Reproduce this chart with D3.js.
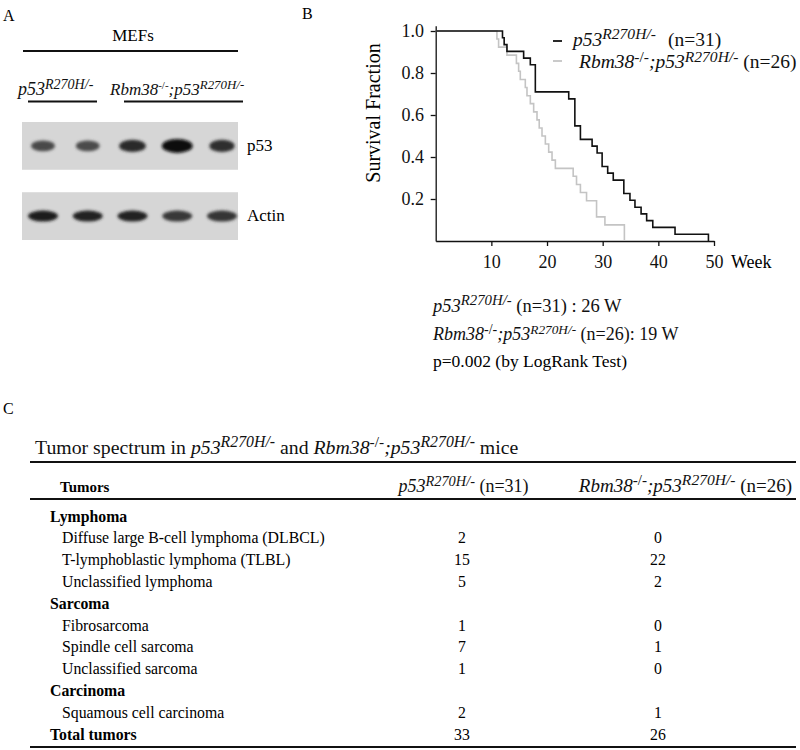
<!DOCTYPE html>
<html><head><meta charset="utf-8">
<script src="https://cdn.jsdelivr.net/npm/d3@7"></script>
<style>body{margin:0;background:#fff}svg{display:block;font-family:"Liberation Serif","Times New Roman",serif}</style>
</head><body><div id="chart"></div>
<script>
// ---------- DATA ----------
// Panel A: band intensities (0..1) for 5 lanes
const laneGroups = ["p53R270H/-","p53R270H/-","Rbm38-/-;p53R270H/-","Rbm38-/-;p53R270H/-","Rbm38-/-;p53R270H/-"];
const p53Bands = [0.62, 0.60, 0.80, 1.00, 0.78];
const p53BandWidth = [0.85, 0.85, 0.95, 1.1, 0.9];
const actinBands = [0.88, 0.85, 0.85, 0.72, 0.75];
const gelRows = ["p53", "Actin"];

// Panel B: Kaplan-Meier survival (weeks, fraction)
const p53Weeks = [0, 12.0, 12.3, 12.8, 15.8, 17.0, 17.9, 23.9, 25.0, 26.0, 28.1, 29.0, 29.9, 30.9, 31.9, 33.8, 34.9, 35.8, 36.9, 37.9, 39.0, 43.0, 49.0];
const p53Surv  = [1, .968, .935, .903, .871, .839, .710, .677, .548, .484, .452, .419, .355, .323, .290, .226, .194, .161, .129, .097, .065, .032, 0];
const dkoWeeks = [0, 11.0, 11.3, 12.8, 14.5, 14.9, 15.2, 16.1, 16.4, 17.0, 17.6, 18.2, 18.6, 19.1, 19.7, 20.3, 20.9, 21.5, 24.7, 25.3, 26.0, 27.1, 28.9, 30.4, 33.9];
const dkoSurv  = [1, .962, .923, .885, .846, .808, .769, .731, .692, .654, .615, .577, .538, .500, .462, .423, .385, .346, .308, .269, .231, .192, .115, .077, 0];
const xTicks = [10, 20, 30, 40, 50];
const yTicks = [0.2, 0.4, 0.6, 0.8, 1.0];
const seriesN = [31, 26];
const medianWeeks = [26, 19];
const pValue = "0.002";

// Panel C: tumor table
const tumorRows = ["Lymphoma", "Diffuse large B-cell lymphoma (DLBCL)", "T-lymphoblastic lymphoma (TLBL)", "Unclassified lymphoma",
  "Sarcoma", "Fibrosarcoma", "Spindle cell sarcoma", "Unclassified sarcoma", "Carcinoma", "Squamous cell carcinoma", "Total tumors"];
const rowIsGroup = [true, false, false, false, true, false, false, false, true, false, true];
const p53Counts = [null, 2, 15, 5, null, 1, 7, 1, null, 2, 33];
const dkoCounts = [null, 0, 22, 2, null, 0, 1, 0, null, 1, 26];

// ---------- HELPERS ----------
const svg = d3.select("#chart").append("svg").attr("width", 800).attr("height", 750);
svg.append("rect").attr("width", 800).attr("height", 750).attr("fill", "#fff");

function rich(g, x, y, segs, size, opts = {}) {
  const t = g.append("text").attr("x", x).attr("y", y).attr("font-size", size).attr("fill", "#111");
  if (opts.anchor) t.attr("text-anchor", opts.anchor);
  const ss = opts.ss || 0.78;
  const raise = opts.raise || 0.36;
  let shifted = 0;
  segs.forEach(s => {
    const sp = t.append("tspan").text(s.t);
    if (s.x !== undefined) sp.attr("x", s.x);
    if (s.i) sp.attr("font-style", "italic");
    if (s.b) sp.attr("font-weight", "bold");
    const target = s.sup ? -size * raise : 0;
    if (target !== shifted) { sp.attr("dy", target - shifted); shifted = target; }
    sp.attr("font-size", s.sup ? size * (s.ss || ss) : size);
  });
  return t;
}
const P53 = () => [{t: "p53", i: true}, {t: "R270H/-", i: true, sup: true}];
const DKO = (k) => [{t: "Rbm38", i: true}, {t: "-/-", sup: true, ss: k}, {t: ";p53", i: true}, {t: "R270H/-", i: true, sup: true}];

// ---------- PANEL A ----------
const gA = svg.append("g");
gA.append("text").attr("x", 3).attr("y", 21).attr("font-size", 16).text("A");
gA.append("text").attr("x", 133).attr("y", 41).attr("text-anchor", "middle").attr("font-size", 17).text("MEFs");
gA.append("line").attr("x1", 23).attr("x2", 238).attr("y1", 51).attr("y2", 51).attr("stroke", "#111").attr("stroke-width", 2);
rich(gA, 18, 95, P53(), 18, {ss: 0.78});
gA.append("line").attr("x1", 28).attr("x2", 97).attr("y1", 101.5).attr("y2", 101.5).attr("stroke", "#111").attr("stroke-width", 2);
rich(gA, 110, 95, DKO(0.65), 17, {ss: 0.76});
gA.append("line").attr("x1", 124).attr("x2", 243).attr("y1", 101.5).attr("y2", 101.5).attr("stroke", "#111").attr("stroke-width", 2);

const defs = svg.append("defs");
defs.append("filter").attr("id", "blur").attr("x", "-50%").attr("y", "-80%").attr("width", "200%").attr("height", "260%")
  .append("feGaussianBlur").attr("stdDeviation", 1.6);
const lane = d3.scalePoint().domain(d3.range(laneGroups.length)).range([43, 222]);
const gelY = d3.scaleBand().domain(gelRows).range([122, 240]).paddingInner(0.32);
gelRows.forEach((row, ri) => {
  const y0 = gelY(row), h = gelY.bandwidth();
  gA.append("rect").attr("x", 22).attr("y", y0).attr("width", 216).attr("height", h).attr("fill", "#d6d6d6");
  const vals = ri === 0 ? p53Bands : actinBands;
  const gb = gA.append("g").attr("filter", "url(#blur)");
  vals.forEach((v, i) => {
    const w = ri === 0 ? 14 * p53BandWidth[i] : 15;
    const hh = ri === 0 ? 3 + 4 * v : 5.5;
    gb.append("ellipse").attr("cx", lane(i)).attr("cy", y0 + h / 2).attr("rx", w).attr("ry", hh)
      .attr("fill", d3.interpolateRgb("#b0b0b0", "#0a0a0a")(v));
  });
  gA.append("text").attr("x", 247).attr("y", y0 + h / 2 + 5).attr("font-size", 17).text(row);
});

// ---------- PANEL B ----------
const gB = svg.append("g");
gB.append("text").attr("x", 302).attr("y", 19).attr("font-size", 16).text("B");
const x = d3.scaleLinear().domain([0, 50]).range([435.7, 714]);
const y = d3.scaleLinear().domain([0, 1.025]).range([241, 25.75]);
const ax = gB.append("g").attr("transform", "translate(0,241)")
  .call(d3.axisBottom(x).tickValues(xTicks).tickSize(5).tickSizeOuter(0).tickFormat(d3.format("d")));
const ay = gB.append("g").attr("transform", "translate(435.7,0)")
  .call(d3.axisLeft(y).tickValues(yTicks).tickSize(5).tickSizeOuter(0).tickFormat(d3.format(".1f")));
[ax, ay].forEach(a => {
  a.selectAll("path,line").attr("stroke", "#111").attr("stroke-width", 1.3);
  a.selectAll("text").attr("font-family", "Liberation Serif").attr("font-size", 18).attr("fill", "#111");
});
ax.selectAll("text").attr("dy", "1.05em");
ay.selectAll("text").attr("dx", "-0.2em");
gB.append("text").attr("x", 731).attr("y", 268).attr("font-size", 18).text("Week");
gB.append("text").attr("transform", "translate(380,113) rotate(-90)").attr("text-anchor", "middle")
  .attr("font-size", 20).text("Survival Fraction");

const line = d3.line().x(d => x(d[0])).y(d => y(d[1])).curve(d3.curveStepAfter);
gB.append("path").datum(d3.zip(dkoWeeks, dkoSurv)).attr("d", line).attr("fill", "none").attr("stroke", "#c4c4c4").attr("stroke-width", 1.6);
gB.append("path").datum(d3.zip(p53Weeks, p53Surv)).attr("d", line).attr("fill", "none").attr("stroke", "#111").attr("stroke-width", 1.6);

// legend
gB.append("line").attr("x1", 553).attr("x2", 562).attr("y1", 41).attr("y2", 41).attr("stroke", "#111").attr("stroke-width", 1.8);
rich(gB, 573, 46, [...P53(), {t: "(n=" + seriesN[0] + ")", x: 668}], 19.5, {ss: 0.8});
gB.append("line").attr("x1", 553).attr("x2", 562).attr("y1", 61).attr("y2", 61).attr("stroke", "#c4c4c4").attr("stroke-width", 1.8);
rich(gB, 579, 68, [...DKO(0.8), {t: "\u00a0(n=" + seriesN[1] + ")"}], 19.5, {ss: 0.8, raise: 0.3});

// summary
rich(gB, 433, 312, [...P53(), {t: "\u00a0(n=" + seriesN[0] + ") : " + medianWeeks[0] + " W"}], 18.5, {ss: 0.8});
rich(gB, 433, 340, [...DKO(0.78), {t: " (n=" + seriesN[1] + "): " + medianWeeks[1] + " W"}], 18, {ss: 0.74});
gB.append("text").attr("x", 433).attr("y", 367).attr("font-size", 17.5).text("p=" + pValue + " (by LogRank Test)");

// ---------- PANEL C ----------
const gC = svg.append("g");
gC.append("text").attr("x", 3).attr("y", 414).attr("font-size", 16).text("C");
rich(gC, 35, 454, [{t: "Tumor spectrum in "}, ...P53(), {t: " and "}, ...DKO(0.78), {t: " mice"}], 19.8, {ss: 0.8});
const rule = (yy, w) => gC.append("line").attr("x1", 30).attr("x2", 796).attr("y1", yy).attr("y2", yy).attr("stroke", "#111").attr("stroke-width", w);
rule(462, 2); rule(499, 2); rule(747, 2);
gC.append("text").attr("x", 60).attr("y", 492).attr("font-size", 15).attr("font-weight", "bold").text("Tumors");
rich(gC, 463.5, 492, [...P53(), {t: " (n=" + seriesN[0] + ")"}], 18, {anchor: "middle", ss: 0.8});
rich(gC, 685.5, 492, [...DKO(0.8), {t: " (n=" + seriesN[1] + ")"}], 19, {anchor: "middle", ss: 0.82});

const rowY = d3.scalePoint().domain(d3.range(tumorRows.length)).range([516, 734]);
const colX = d3.scalePoint().domain(["p53", "dko"]).range([462, 658]);
tumorRows.forEach((r, i) => {
  const yy = rowY(i) + 5.5;
  gC.append("text").attr("x", rowIsGroup[i] ? 50 : 62).attr("y", yy).attr("font-size", 15.8)
    .attr("font-weight", rowIsGroup[i] ? "bold" : "normal").text(r);
  if (p53Counts[i] !== null) gC.append("text").attr("x", colX("p53")).attr("y", yy).attr("text-anchor", "middle").attr("font-size", 15.8).text(p53Counts[i]);
  if (dkoCounts[i] !== null) gC.append("text").attr("x", colX("dko")).attr("y", yy).attr("text-anchor", "middle").attr("font-size", 15.8).text(dkoCounts[i]);
});
</script></body></html>
